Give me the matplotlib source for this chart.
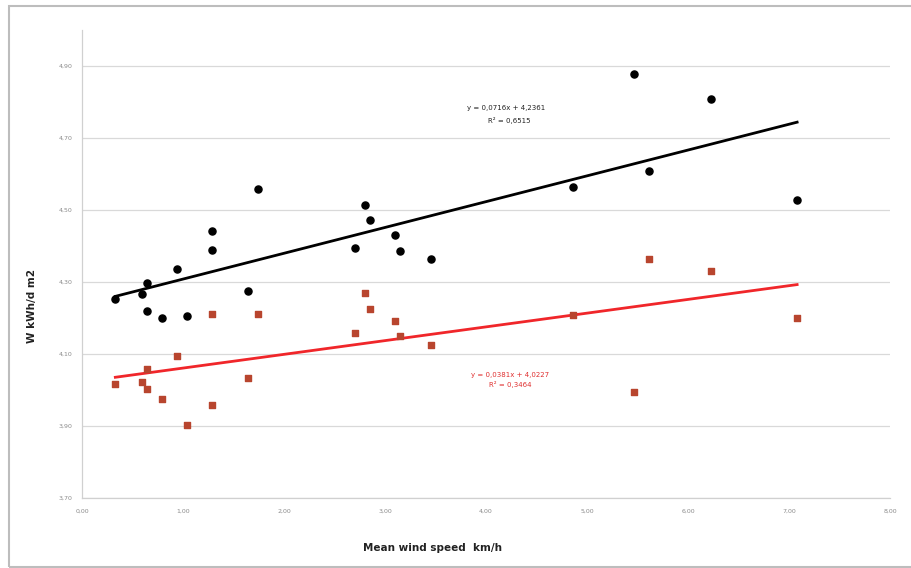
import numpy as np
import matplotlib
matplotlib.use('Agg')
import matplotlib.pyplot as plt
from matplotlib.patches import Rectangle

# black series (circles): mean wind speed km/h, W kWh/d m2
x_black = [0.33, 0.59, 0.64, 0.64, 0.79, 0.94, 1.04, 1.29, 1.29, 1.64, 1.74,
           2.70, 2.80, 2.85, 3.10, 3.15, 3.46, 4.86, 5.47, 5.61, 6.23, 7.08]
w_black = [4.252, 4.267, 4.297, 4.218, 4.201, 4.335, 4.206, 4.441, 4.388, 4.274, 4.558,
           4.394, 4.514, 4.472, 4.431, 4.386, 4.363, 4.562, 4.877, 4.608, 4.808, 4.528]

# red series (squares)
x_red = [0.33, 0.59, 0.64, 0.64, 0.79, 0.94, 1.04, 1.29, 1.29, 1.64, 1.74,
         2.70, 2.80, 2.85, 3.10, 3.15, 3.46, 4.86, 5.47, 5.61, 6.23, 7.08]
w_red = [4.017, 4.022, 4.058, 4.003, 3.975, 4.094, 3.902, 4.210, 3.959, 4.033, 4.210,
         4.159, 4.269, 4.226, 4.192, 4.151, 4.125, 4.209, 3.995, 4.364, 4.331, 4.199]

# trendlines as printed on the chart: slope, intercept, R2
fit_black = (0.0716, 4.2361, 0.6515)
fit_red = (0.0381, 4.0227, 0.3464)

x_ticks = [0, 1, 2, 3, 4, 5, 6, 7, 8]
y_ticks = [3.7, 3.9, 4.1, 4.3, 4.5, 4.7, 4.9]


def comma(v, n=2):
    return f'{v:.{n}f}'.replace('.', ',')


fig = plt.figure(figsize=(9.11, 5.68), dpi=100)
ax = fig.add_axes([0.090, 0.123, 0.887, 0.825])

ax.grid(axis='y', color='#d9d9d9', linewidth=0.9)
ax.set_axisbelow(True)

xb = np.array([min(x_black), max(x_black)])
ax.plot(xb, fit_black[0] * xb + fit_black[1], color='black', linewidth=2)
xr = np.array([min(x_red), max(x_red)])
ax.plot(xr, fit_red[0] * xr + fit_red[1], color='#f0262a', linewidth=2)

ax.scatter(x_black, w_black, s=26, color='black', marker='o', zorder=3)
ax.scatter(x_red, w_red, s=22, color='#b8452e', marker='s', zorder=3)

ax.set_xlim(0, 8)
ax.set_ylim(3.7, 5.0)
ax.set_xticks(x_ticks)
ax.set_yticks(y_ticks)
ax.set_xticklabels([comma(v) for v in x_ticks], fontsize=4.5, color='#8a8a8a')
ax.set_yticklabels([comma(v) for v in y_ticks], fontsize=4.5, color='#8a8a8a')
ax.tick_params(axis='x', length=0, pad=8)
ax.tick_params(axis='y', length=0, pad=7)

for s in ['top', 'right']:
    ax.spines[s].set_visible(False)
for s in ['left', 'bottom']:
    ax.spines[s].set_color('#d0d0d0')
    ax.spines[s].set_linewidth(0.9)

ax.set_xlabel('Mean wind speed  km/h', fontsize=7.5, fontweight='bold', color='#222222')
ax.xaxis.set_label_coords(0.434, -0.096)
ax.set_ylabel('W kWh/d m2', fontsize=7.5, fontweight='bold', color='#222222')
ax.yaxis.set_label_coords(-0.056, 0.41)

ax.text(4.2, 4.781, f'y = {comma(fit_black[0], 4)}x + {comma(fit_black[1], 4)}',
        fontsize=5, ha='center', va='center', color='#222222')
ax.text(4.23, 4.747, f'R² = {comma(fit_black[2], 4)}',
        fontsize=5, ha='center', va='center', color='#222222')
ax.text(4.24, 4.042, f'y = {comma(fit_red[0], 4)}x + {comma(fit_red[1], 4)}',
        fontsize=5, ha='center', va='center', color='#e03030')
ax.text(4.24, 4.014, f'R² = {comma(fit_red[2], 4)}',
        fontsize=5, ha='center', va='center', color='#e03030')

# outer chart frame
fig.patches.append(Rectangle((9 / 911, 0.002), 1.1, 1 - 6 / 568 - 0.002,
                             transform=fig.transFigure, fill=False,
                             edgecolor='#bdbdbd', linewidth=1.5))

fig.savefig('out.png', dpi=100)
